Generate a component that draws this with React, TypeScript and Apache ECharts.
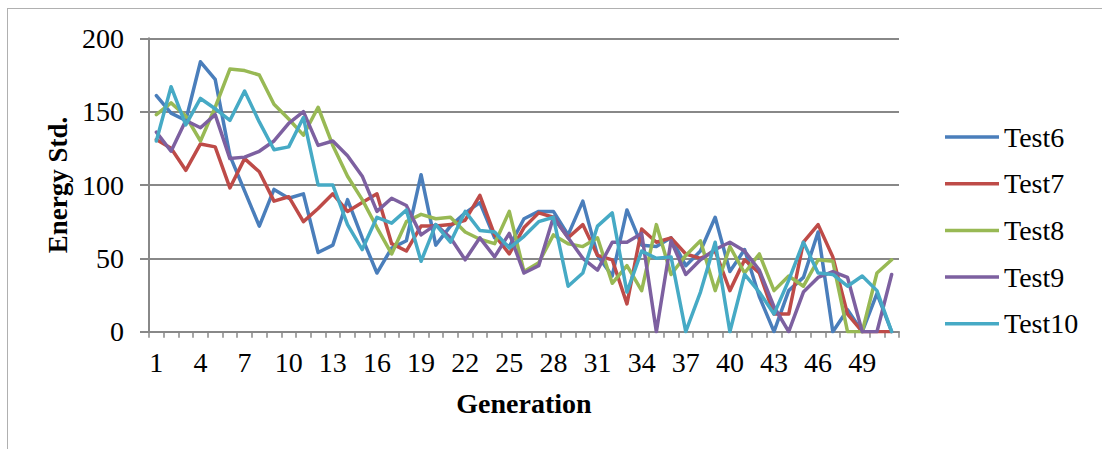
import React, { useEffect, useRef } from "react";
import * as echarts from "echarts";

const categories: string[] = Array.from({ length: 51 }, (_, i) => String(i + 1));

const test6: number[] = [161, 149, 144, 184, 172, 120, 96, 72, 97, 91, 94, 54, 59, 90, 64, 40, 57, 62, 107, 59, 72, 81, 88, 64, 58, 77, 82, 82, 66, 89, 52, 38, 83, 59, 58, 64, 45, 55, 78, 41, 56, 24, 0, 28, 37, 68, 0, 15, 0, 26, 0];
const test7: number[] = [131, 125, 110, 128, 126, 98, 118, 109, 89, 92, 75, 84, 94, 82, 88, 94, 60, 55, 72, 72, 73, 76, 93, 66, 53, 71, 81, 78, 64, 73, 52, 49, 19, 70, 61, 64, 53, 50, 55, 28, 49, 40, 12, 12, 61, 73, 51, 12, 0, 0, 0];
const test8: number[] = [148, 156, 147, 130, 153, 179, 178, 175, 155, 145, 134, 153, 127, 106, 90, 71, 53, 75, 80, 77, 78, 68, 63, 60, 82, 41, 47, 66, 60, 58, 64, 33, 45, 28, 73, 39, 52, 62, 28, 58, 40, 53, 28, 38, 31, 49, 48, 0, 0, 40, 49];
const test9: number[] = [136, 123, 144, 139, 148, 118, 119, 123, 130, 142, 150, 127, 130, 120, 106, 82, 91, 86, 66, 73, 64, 49, 64, 51, 67, 40, 45, 78, 64, 50, 42, 61, 61, 67, 0, 62, 39, 49, 56, 61, 55, 42, 17, 0, 27, 37, 41, 37, 0, 0, 39];
const test10: number[] = [130, 167, 141, 159, 152, 144, 164, 143, 124, 126, 146, 100, 100, 73, 56, 78, 74, 83, 48, 73, 61, 82, 69, 68, 57, 65, 75, 78, 31, 40, 72, 81, 27, 55, 50, 51, 0, 27, 61, 0, 39, 27, 12, 35, 61, 40, 39, 31, 38, 28, 0];

const seriesNames: string[] = ["Test6", "Test7", "Test8", "Test9", "Test10"];
const seriesColors: string[] = ["#4A7EBB", "#BE4B48", "#98B954", "#7D60A0", "#46AAC5"];
const seriesData: number[][] = [test6, test7, test8, test9, test10];

const FONT = "'Liberation Serif', 'Times New Roman', serif";

export default function App() {
  const ref = useRef<HTMLDivElement>(null);
  useEffect(() => {
    document.body.style.margin = "0";
    if (!ref.current) return;
    const chart = echarts.init(ref.current, undefined, { renderer: "svg" });
    chart.setOption({
      animation: false,
      backgroundColor: "#ffffff",
      textStyle: { fontFamily: FONT },
      grid: { left: 149, top: 38.3, width: 750, height: 293.4, containLabel: false },
      legend: {
        orient: "vertical",
        left: 945,
        top: 123,
        padding: 0,
        icon: "rect",
        itemWidth: 54,
        itemHeight: 3.5,
        itemGap: 18.7,
        itemTextGap: 3,
        textStyle: { fontFamily: FONT, fontSize: 28, color: "#000", lineHeight: 28 },
        data: seriesNames,
      },
      xAxis: {
        type: "category",
        data: categories,
        boundaryGap: true,
        name: "Generation",
        nameLocation: "middle",
        nameGap: 58,
        nameTextStyle: { fontFamily: FONT, fontSize: 28, fontWeight: "bold", color: "#000" },
        axisLine: { lineStyle: { color: "#888", width: 2 } },
        axisTick: { show: true, interval: 0, length: 6, lineStyle: { color: "#888", width: 1.5 } },
        axisLabel: { interval: 2, margin: 17, fontFamily: FONT, fontSize: 28, color: "#000" },
        splitLine: { show: false },
      },
      yAxis: {
        type: "value",
        min: 0,
        max: 200,
        interval: 50,
        name: "Energy Std.",
        nameLocation: "middle",
        nameGap: 75,
        nameTextStyle: { fontFamily: FONT, fontSize: 27, fontWeight: "bold", color: "#000" },
        axisLine: { show: true, lineStyle: { color: "#888", width: 2 } },
        axisTick: { show: true, length: 9, lineStyle: { color: "#888", width: 2 } },
        axisLabel: { margin: 25, fontFamily: FONT, fontSize: 28, color: "#000" },
        splitLine: { show: true, lineStyle: { color: "#888", width: 2 } },
      },
      graphic: [
        { type: "line", shape: { x1: 7, y1: 8.5, x2: 1102, y2: 8.5 }, style: { stroke: "#b0b0b0", lineWidth: 1 } },
        { type: "line", shape: { x1: 7.5, y1: 8, x2: 7.5, y2: 449 }, style: { stroke: "#b0b0b0", lineWidth: 1 } },
      ],
      series: seriesNames.map((name, i) => ({
        name,
        type: "line",
        data: seriesData[i],
        symbol: "none",
        lineStyle: { width: 3.5, color: seriesColors[i], cap: "round", join: "round" },
        itemStyle: { color: seriesColors[i] },
      })),
    });
    return () => chart.dispose();
  }, []);
  return <div ref={ref} style={{ width: 1102, height: 449 }} />;
}
